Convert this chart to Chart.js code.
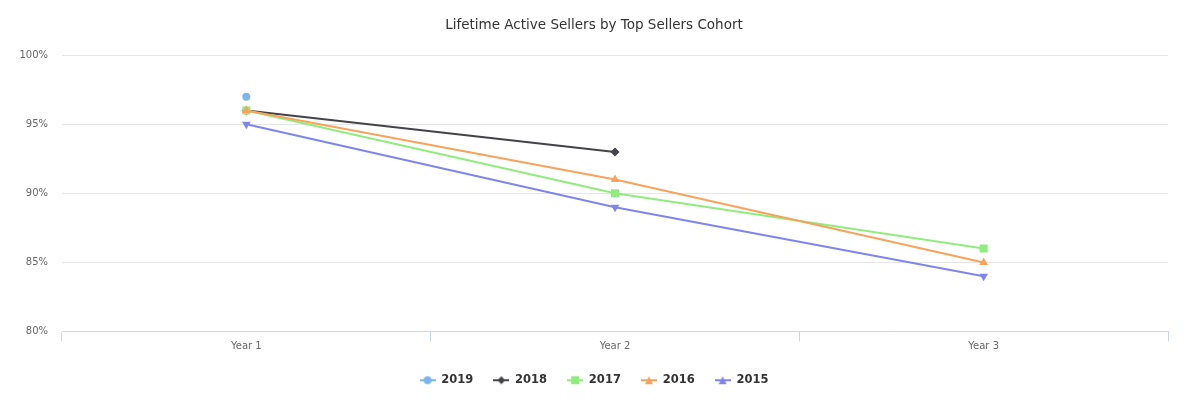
<!DOCTYPE html>
<html>
<head>
<meta charset="utf-8">
<script src="https://cdn.jsdelivr.net/npm/chart.js@4"></script>
<style>
  html, body { margin: 0; padding: 0; background: #fff; }
  #wrap { width: 1188px; height: 402px; }
</style>
</head>
<body>
<div id="wrap"><canvas id="cohortChart"></canvas></div>
<script>
// Data
const categories = ['Year 1', 'Year 2', 'Year 3'];
const cohorts = ['2019', '2018', '2017', '2016', '2015'];
const values2019 = [97, null, null];
const values2018 = [96, 93, null];
const values2017 = [96, 90, 86];
const values2016 = [96, 91, 85];
const values2015 = [95, 89, 84];
const yTicks = [80, 85, 90, 95, 100];

const seriesValues = [values2019, values2018, values2017, values2016, values2015];
const colors = ['#7cb5ec', '#434348', '#90ed7d', '#f7a35c', '#8085e9'];
const markers = ['circle', 'rectRot', 'rect', 'triangle', 'triangle'];
const markerRadius = [4, 4.5, 5.66, 5, 5];
const markerRotation = [0, 0, 0, 0, 180];

const FONT = '"DejaVu Sans", Verdana, Arial, sans-serif';

// small canvas with line + marker, used as the legend symbol
function legendSymbol(i) {
    const c = document.createElement('canvas');
    c.width = 16; c.height = 12;
    const ctx = c.getContext('2d');
    ctx.strokeStyle = colors[i];
    ctx.lineWidth = 2;
    ctx.beginPath();
    ctx.moveTo(0, 6); ctx.lineTo(16, 6);
    ctx.stroke();
    ctx.fillStyle = colors[i];
    ctx.beginPath();
    if (i === 0) {
        ctx.arc(8, 6, 4, 0, Math.PI * 2);
    } else if (i === 1) {
        ctx.moveTo(8, 2); ctx.lineTo(12, 6); ctx.lineTo(8, 10); ctx.lineTo(4, 6);
    } else if (i === 2) {
        ctx.rect(4, 2, 8, 8);
    } else if (i === 3) {
        ctx.moveTo(8, 2); ctx.lineTo(12, 10); ctx.lineTo(4, 10);
    } else {
        ctx.moveTo(4, 2); ctx.lineTo(12, 2); ctx.lineTo(8, 10);
    }
    ctx.closePath();
    ctx.fill();
    return c;
}

const datasets = cohorts.map((name, i) => ({
    label: name,
    data: seriesValues[i],
    borderColor: colors[i],
    backgroundColor: colors[i],
    borderWidth: 2,
    pointStyle: markers[i],
    pointRadius: markerRadius[i],
    pointHoverRadius: markerRadius[i],
    pointRotation: markerRotation[i],
    pointBorderWidth: 0,
    tension: 0,
    spanGaps: false,
    order: cohorts.length - i
}));

new Chart(document.getElementById('cohortChart'), {
    type: 'line',
    data: { labels: categories, datasets: datasets },
    options: {
        responsive: true,
        maintainAspectRatio: false,
        animation: false,
        layout: { padding: { left: 0, right: 0, top: 0, bottom: 6 } },
        plugins: {
            title: {
                display: true,
                text: 'Lifetime Active Sellers by Top Sellers Cohort',
                color: '#333333',
                font: { family: FONT, size: 13.5, weight: 'normal' },
                padding: { top: 17, bottom: 22 }
            },
            legend: {
                position: 'bottom',
                labels: {
                    color: '#333333',
                    font: { family: FONT, size: 11.5, weight: 'bold' },
                    usePointStyle: true,
                    pointStyleWidth: 16,
                    padding: 20,
                    sort: (a, b) => a.datasetIndex - b.datasetIndex,
                    generateLabels: (chart) => {
                        const items = Chart.defaults.plugins.legend.labels.generateLabels(chart);
                        items.forEach(it => { it.pointStyle = legendSymbol(it.datasetIndex); });
                        return items;
                    }
                }
            },
            tooltip: { enabled: false }
        },
        scales: {
            x: {
                offset: true,
                afterFit: (scale) => { scale.height += 3; },
                border: { display: true, color: '#ccd6eb', width: 1 },
                grid: {
                    offset: true,
                    drawOnChartArea: false,
                    drawTicks: true,
                    tickLength: 10,
                    color: '#ccd6eb'
                },
                ticks: {
                    color: '#666666',
                    font: { family: FONT, size: 10 },
                    padding: -1
                }
            },
            y: {
                min: 80,
                max: 100,
                afterFit: (scale) => { scale.width = 62; },
                afterBuildTicks: (scale) => { scale.ticks = yTicks.map(v => ({ value: v })); },
                border: { display: false },
                grid: { color: '#e6e6e6', drawTicks: false },
                ticks: {
                    color: '#666666',
                    font: { family: FONT, size: 10 },
                    padding: 14,
                    callback: (v) => v + '%'
                }
            },
            // empty right-hand spacer so title and legend stay centred on the page
            spacer: {
                type: 'linear',
                position: 'right',
                min: 80,
                max: 100,
                afterFit: (scale) => { scale.width = 20; },
                border: { display: false },
                grid: { display: false },
                ticks: { display: false }
            }
        }
    }
});
</script>
</body>
</html>
